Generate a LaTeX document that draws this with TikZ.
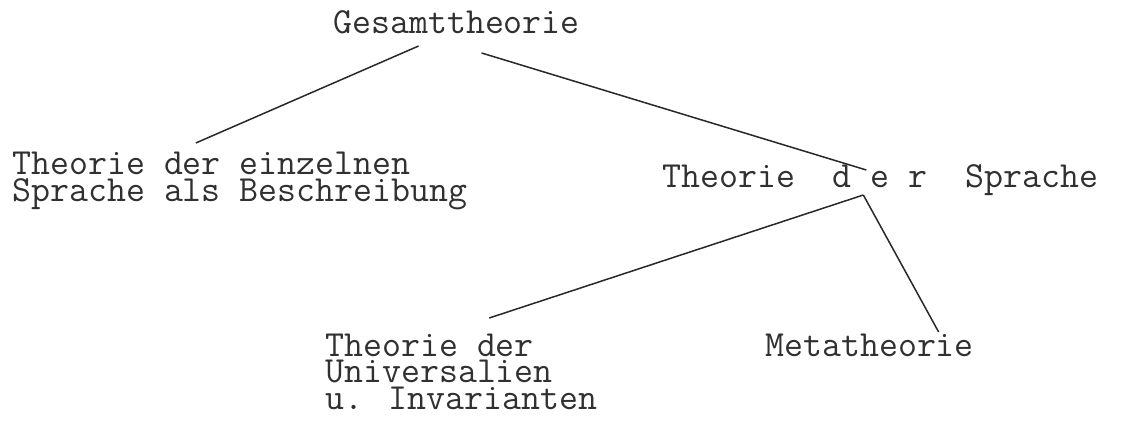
\documentclass[tikz,border=0pt]{standalone}
\usepackage{fontspec}
\usetikzlibrary{calc}
\definecolor{typeink}{RGB}{48,48,48}
\definecolor{pencil}{RGB}{40,40,40}

\begin{document}
\begin{tikzpicture}[
    x=0.5pt, y=-0.5pt,
    typed/.style={font=\ttfamily\fontsize{18.4}{13.25}\selectfont, text=typeink,
      inner sep=0pt, align=left, anchor=base west},
    branch/.style={pencil, line width=0.75pt},
  ]
  \useasboundingbox (0,0) rectangle (1126,428);

  % typed labels (base = last line)
  \node[typed] (ges) at (333,33) {Gesamttheorie};
  \node[typed] (einz) at (12,201) {Theorie der einzelnen\\Sprache als Beschreibung};
  \node[typed] (spr) at (662,187) {Theorie~~d~e~r~~Sprache};
  \node[typed] (univ) at (325,409) {Theorie der\\Universalien\\u. Invarianten};
  \node[typed] (meta) at (765,356) {Metatheorie};

  % branches
  \draw[branch] ($(ges.base)+(-38,13)$) -- ($(einz.base)+(-44,-58)$);
  \draw[branch] ($(ges.base)+(25,20)$) -- ($(spr.base)+(-14,-17)$);
  \draw[branch] ($(spr.base)+(-17,8)$) -- ($(univ.base)+(28,-91)$);
  \draw[branch] ($(spr.base)+(-17,8)$) -- ($(meta.base)+(69,-24)$);

\end{tikzpicture}
\end{document}
